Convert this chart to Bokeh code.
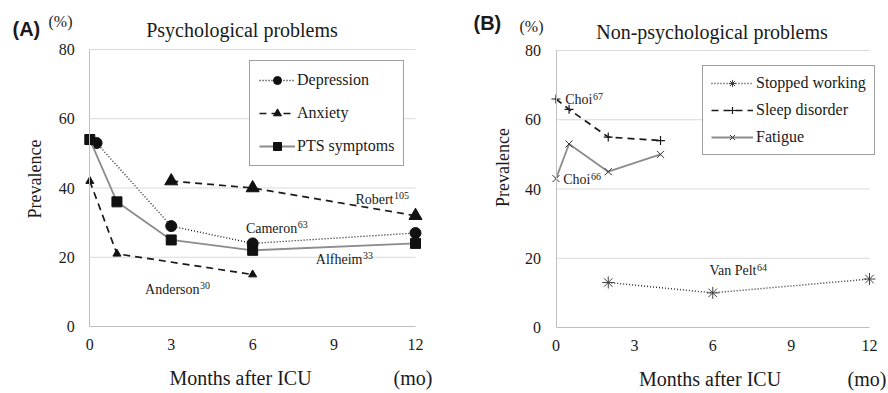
import math
from bokeh.plotting import figure
from bokeh.layouts import row
from bokeh.models import Range1d, FixedTicker, Label, Legend, LegendItem
from bokeh.embed import file_html
from bokeh.resources import INLINE

# ---------------- data ----------------
X_TICKS = [0, 3, 6, 9, 12]
Y_TICKS = [0, 20, 40, 60, 80]
GRID_Y = [20, 40, 60, 80]

# (A) Psychological problems
dep_x = [0.25, 3, 6, 12]
dep_y = [53, 29, 24, 27]
anx_anderson_x = [0, 1, 6]
anx_anderson_y = [42, 21, 15]
anx_robert_x = [3, 6, 12]
anx_robert_y = [42, 40, 32]
pts_x = [0, 1, 3, 6, 12]
pts_y = [54, 36, 25, 22, 24]

# (B) Non-psychological problems
stop_x = [2, 6, 12]
stop_y = [13, 10, 14]
sleep_x = [0, 0.5, 2, 4]
sleep_y = [66, 63, 55, 54]
fat_x = [0, 0.5, 2, 4]
fat_y = [43, 53, 45, 50]

# study annotations: (name, reference number)
studies_a = [("Robert", "105"), ("Cameron", "63"), ("Alfheim", "33"), ("Anderson", "30")]
studies_b = [("Choi", "67"), ("Choi", "66"), ("Van Pelt", "64")]

SERIF = "Liberation Serif"
SANS = "Liberation Sans"
W = 444
H = 393


def data_range(p_lo, p_hi, v_lo, v_hi, size, flip=False):
    """Range so that value v_lo lands on pixel p_lo and v_hi on p_hi in a frame of `size` px."""
    if flip:  # pixel axis runs downward
        p_lo, p_hi = size - p_lo, size - p_hi
    scale = (p_hi - p_lo) / (v_hi - v_lo)
    start = v_lo - p_lo / scale
    return Range1d(start, start + size / scale)


def make_fig(px0, px12, py0, py80):
    p = figure(width=W, height=H,
               x_range=data_range(px0, px12, X_TICKS[0], X_TICKS[-1], W),
               y_range=data_range(py0, py80, Y_TICKS[0], Y_TICKS[-1], H, flip=True),
               output_backend="svg", toolbar_location=None,
               min_border=0, min_border_left=0, min_border_right=0,
               min_border_top=0, min_border_bottom=0)
    p.outline_line_color = None
    p.background_fill_color = "white"
    p.border_fill_color = "white"
    p.xgrid.visible = False
    p.ygrid.visible = False
    # horizontal gridlines spanning the axis extent only
    n = len(GRID_Y)
    p.segment(x0=[X_TICKS[0]] * n, x1=[X_TICKS[-1]] * n, y0=GRID_Y, y1=GRID_Y,
              line_color="#d9d9d9", line_width=1, level="underlay")
    for ax in (p.xaxis[0], p.yaxis[0]):
        ax.axis_line_color = "#bfbfbf"
        ax.axis_line_width = 1
        ax.major_tick_line_color = None
        ax.minor_tick_line_color = None
        ax.major_tick_out = 0
        ax.major_tick_in = 0
        ax.minor_tick_out = 0
        ax.major_label_text_font = SERIF
        ax.major_label_text_font_size = "16px"
        ax.major_label_text_color = "#1a1a1a"
        ax.fixed_location = 0
    p.xaxis.ticker = FixedTicker(ticks=X_TICKS)
    p.yaxis.ticker = FixedTicker(ticks=Y_TICKS)
    p.xaxis.bounds = (X_TICKS[0], X_TICKS[-1])
    p.yaxis.bounds = (Y_TICKS[0], Y_TICKS[-1])
    p.xaxis.major_label_standoff = 12
    p.yaxis.major_label_standoff = 15
    return p


def add_text(p, left, X, Y, text, size, align="left", baseline="alphabetic",
             font=SERIF, style="normal", angle=0.0, color="#1a1a1a"):
    px = float(size.replace("px", ""))
    if baseline == "alphabetic":
        # place by the visual baseline Y, using the middle of the em box
        Y = Y - 0.34 * px
        baseline = "middle"
    p.add_layout(Label(x=X - left, y=H - Y, x_units="screen", y_units="screen",
                       text=text, text_font=font, text_font_size=size,
                       text_font_style=style, text_align=align,
                       text_baseline=baseline, angle=angle, text_color=color))


def style_legend(leg, pad, spacing, gw, gh, standoff):
    leg.margin = 0
    leg.padding = pad
    leg.spacing = spacing
    leg.glyph_width = gw
    leg.glyph_height = gh
    leg.label_height = gh
    leg.label_standoff = standoff
    leg.label_text_font = SERIF
    leg.label_text_font_size = "16px"
    leg.label_text_color = "#1a1a1a"
    leg.border_line_color = "#404040"
    leg.border_line_width = 1
    leg.background_fill_alpha = 1.0


# ---------------- panel A ----------------
LA = 0
pa = make_fig(89.3, 415, 326, 49)

dep_line = pa.line(dep_x, dep_y, line_color="#111111", line_width=1.3, line_dash="1 2")
dep_pts = pa.scatter(dep_x, dep_y, marker="circle", size=11, fill_color="#111111", line_color="#111111")
and_line = pa.line(anx_anderson_x, anx_anderson_y, line_color="#1a1a1a", line_width=1.7, line_dash="7 5")
and_pts = pa.scatter(anx_anderson_x, anx_anderson_y, marker="triangle", size=8, fill_color="#111111", line_color="#111111")
rob_line = pa.line(anx_robert_x, anx_robert_y, line_color="#1a1a1a", line_width=1.7, line_dash="7 5")
rob_pts = pa.scatter(anx_robert_x, anx_robert_y, marker="triangle", size=13, fill_color="#111111", line_color="#111111")
pts_line = pa.line(pts_x, pts_y, line_color="#8c8c8c", line_width=1.8)
pts_pts = pa.scatter(pts_x, pts_y, marker="square", size=10, fill_color="#111111", line_color="#111111")

leg_a = Legend(items=[LegendItem(label="Depression", renderers=[dep_line, dep_pts]),
                      LegendItem(label="Anxiety", renderers=[and_line, and_pts]),
                      LegendItem(label="PTS symptoms", renderers=[pts_line, pts_pts])],
               location=(249 - LA, H - 166))
style_legend(leg_a, 9, 13, 36, 20, 2)
pa.add_layout(leg_a)

add_text(pa, LA, 12, 35.5, "(A)", "20px", font=SANS, style="bold")
add_text(pa, LA, 48, 26.5, "(%)", "16px")
add_text(pa, LA, 241.5, 36, "Psychological problems", "20px", align="center")
add_text(pa, LA, 34.5, 178.5, "Prevalence", "18px", align="center", baseline="middle", angle=math.pi / 2)
add_text(pa, LA, 240, 384, "Months after ICU", "20px", align="center")
add_text(pa, LA, 393, 384, "(mo)", "20px")

pos_a = [(393, 203.3), (296.7, 232.3), (362, 263.3), (199, 293.3)]
for (name, ref), (X, Y) in zip(studies_a, pos_a):
    add_text(pa, LA, X, Y, name, "14px", align="right")
    add_text(pa, LA, X + 0.5, Y - 5, ref, "10px")

# ---------------- panel B ----------------
LB = W
pb = make_fig(555.5 - LB, 869 - LB, 327, 50)

stop_line = pb.line(stop_x, stop_y, line_color="#333333", line_width=1.5, line_dash="1 2")
stop_pts = pb.scatter(stop_x, stop_y, marker="asterisk", size=12, line_color="#404040", line_width=1)
sleep_line = pb.line(sleep_x, sleep_y, line_color="#1a1a1a", line_width=1.7, line_dash="7 5")
sleep_pts = pb.scatter(sleep_x, sleep_y, marker="cross", size=9, line_color="#1a1a1a", line_width=1.2)
fat_line = pb.line(fat_x, fat_y, line_color="#8c8c8c", line_width=1.8)
fat_pts = pb.scatter(fat_x, fat_y, marker="x", size=10, line_color="#333333", line_width=1)

leg_b = Legend(items=[LegendItem(label="Stopped working", renderers=[stop_line, stop_pts]),
                      LegendItem(label="Sleep disorder", renderers=[sleep_line, sleep_pts]),
                      LegendItem(label="Fatigue", renderers=[fat_line, fat_pts])],
               location=(702 - LB, H - 155))
style_legend(leg_b, 8, 9, 42, 18, 3)
pb.add_layout(leg_b)

add_text(pb, LB, 473, 29.5, "(B)", "20px", font=SANS, style="bold")
add_text(pb, LB, 519, 31.5, "(%)", "16px")
add_text(pb, LB, 711.5, 38.5, "Non-psychological problems", "20px", align="center")
add_text(pb, LB, 502.5, 167, "Prevalence", "18px", align="center", baseline="middle", angle=math.pi / 2)
add_text(pb, LB, 709.5, 385, "Months after ICU", "20px", align="center")
add_text(pb, LB, 886, 385, "(mo)", "20px", align="right")

pos_b = [(592, 104), (590, 184), (756, 275)]
for (name, ref), (X, Y) in zip(studies_b, pos_b):
    add_text(pb, LB, X, Y, name, "14px", align="right")
    add_text(pb, LB, X + 0.5, Y - 5, ref, "10px")

layout = row(pa, pb)
open("out.html", "w").write(file_html(layout, INLINE))
